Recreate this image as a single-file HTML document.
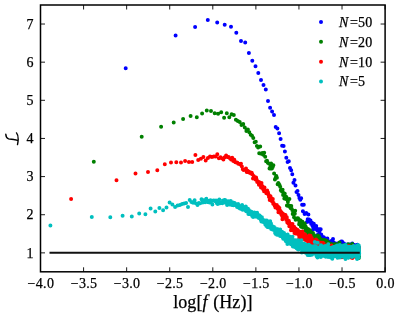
<!DOCTYPE html>
<html><head><meta charset="utf-8"><title>chart</title>
<style>
html,body{margin:0;padding:0;background:#fff;}
body{width:399px;height:319px;overflow:hidden;}
svg{display:block;will-change:transform;}
text{font-family:"Liberation Serif",serif;font-size:14px;fill:#000;stroke:#000;stroke-width:0.25px;letter-spacing:0.3px;}
</style></head><body>
<svg width="399" height="319" viewBox="0 0 399 319">
<rect width="399" height="319" fill="#fff"/>
<g>
<path d="M125.7 68.2h0M175.6 35.6h0M195.1 27.1h0M207.8 20.1h0M217.2 22.6h0M224.7 24.8h0M231.0 26.8h0M236.3 32.8h0M241.0 40.9h0M245.2 42.6h0M248.9 52.9h0M252.3 60.7h0M255.5 66.2h0M258.3 73.0h0M261.0 80.1h0M263.5 85.0h0M265.8 89.5h0M268.0 101.1h0M270.1 107.8h0M272.1 111.4h0M274.0 115.1h0M275.7 126.9h0M277.4 128.4h0M279.1 133.2h0M280.6 138.9h0M282.1 145.7h0M283.6 145.9h0M284.9 151.5h0M286.3 157.8h0M287.6 162.1h0M288.8 161.2h0M290.0 168.0h0M291.2 170.3h0M292.3 174.2h0M293.4 182.7h0M294.5 180.0h0M295.5 185.5h0M296.5 192.1h0M297.5 190.9h0M298.5 194.9h0M299.4 197.9h0M300.3 199.8h0M301.2 198.3h0M302.1 204.8h0M302.9 211.2h0M303.8 204.8h0M304.6 213.9h0M305.4 213.7h0M306.2 212.9h0M306.9 221.9h0M307.7 219.3h0M308.4 214.6h0M309.1 219.4h0M309.8 221.7h0M310.5 220.4h0M311.2 224.0h0M311.9 222.8h0M312.5 226.0h0M313.2 229.2h0M313.8 223.8h0M314.4 227.4h0M315.0 226.3h0M315.7 229.0h0M316.2 225.9h0M316.8 228.6h0M317.4 230.6h0M318.0 234.6h0M318.5 236.0h0M319.1 229.3h0M319.6 231.5h0M320.2 236.5h0M320.7 229.2h0M321.2 234.4h0M321.7 236.1h0M322.2 240.7h0M322.7 239.6h0M323.2 237.0h0M323.7 237.3h0M324.2 238.1h0M324.7 243.8h0M325.1 238.4h0M325.6 239.2h0M326.0 241.6h0M326.5 240.5h0M326.9 240.7h0M327.4 238.4h0M327.8 242.0h0M328.2 241.0h0M328.7 246.1h0M329.1 244.8h0M329.5 243.0h0M329.9 245.3h0M330.3 242.6h0M330.7 247.0h0M331.1 244.0h0M331.5 246.0h0M331.9 240.6h0M332.3 245.8h0M332.7 239.9h0M333.0 239.0h0M333.4 244.3h0M333.8 242.7h0M334.2 246.0h0M334.5 252.3h0M334.9 243.2h0M335.2 244.0h0M335.6 246.6h0M335.9 247.6h0M336.3 245.7h0M336.6 245.7h0M337.0 248.5h0M337.3 248.1h0M337.6 243.5h0M338.0 246.5h0M338.3 247.0h0M338.6 243.8h0M338.9 247.9h0M339.3 244.6h0M339.6 250.2h0M339.9 248.0h0M340.2 247.8h0M340.5 245.8h0M340.8 247.2h0M341.1 241.6h0M341.4 244.3h0M341.7 248.8h0M342.0 241.4h0M342.3 250.3h0M342.6 242.6h0M342.9 250.1h0M343.2 245.4h0M343.5 250.3h0M343.8 248.4h0M344.0 243.4h0M344.3 251.8h0M344.6 252.4h0M344.9 247.9h0M345.1 247.3h0M345.4 247.7h0M345.7 245.3h0M346.0 251.6h0M346.2 246.7h0M346.5 248.2h0M346.7 246.0h0M347.0 246.5h0M347.3 244.6h0M347.5 252.2h0M347.8 248.0h0M348.0 251.4h0M348.3 248.6h0M348.5 246.5h0M348.8 247.6h0M349.0 246.9h0M349.3 248.6h0M349.5 247.4h0M349.8 247.7h0M350.0 244.5h0M350.2 246.2h0M350.5 253.6h0M350.7 246.6h0M350.9 245.5h0M351.2 249.7h0M351.4 252.9h0M351.6 244.3h0M351.9 248.0h0M352.1 246.8h0M352.3 243.4h0M352.5 250.9h0M352.8 248.6h0M353.0 248.9h0M353.2 246.5h0M353.4 250.1h0M353.6 247.1h0M353.9 248.3h0M354.1 245.4h0M354.3 245.1h0M354.5 252.8h0M354.7 247.3h0M354.9 249.7h0M355.1 248.7h0M355.3 247.5h0M355.5 247.3h0M355.7 250.7h0M355.9 247.9h0M356.2 248.4h0M356.4 248.9h0M356.6 252.4h0M356.8 250.9h0M357.0 250.0h0M357.2 247.2h0M357.3 244.7h0M357.5 251.7h0M357.7 251.8h0M357.9 248.5h0M358.1 250.5h0M358.3 251.3h0M358.5 251.4h0M358.7 251.7h0M358.9 247.6h0M359.1 253.5h0" stroke="#0000ff" stroke-width="4.0" stroke-linecap="round" fill="none"/>
<path d="M93.8 161.8h0M141.7 136.8h0M161.1 126.8h0M173.7 122.6h0M183.1 119.0h0M190.6 116.1h0M196.8 117.3h0M202.1 113.6h0M206.8 110.6h0M211.0 111.1h0M214.7 113.3h0M218.1 113.8h0M221.2 112.3h0M224.1 117.8h0M226.8 113.3h0M229.3 117.3h0M231.6 114.3h0M233.8 115.1h0M235.9 119.8h0M237.8 120.9h0M239.7 122.1h0M241.5 125.1h0M243.2 123.9h0M244.8 127.6h0M246.4 130.9h0M247.9 129.6h0M249.3 132.2h0M250.7 134.8h0M252.0 135.7h0M253.3 137.9h0M254.6 142.3h0M255.8 141.8h0M256.9 146.1h0M258.1 147.6h0M259.2 153.2h0M260.2 146.5h0M261.3 153.7h0M262.3 152.9h0M263.3 154.7h0M264.2 152.7h0M265.2 156.7h0M266.1 161.2h0M267.0 160.8h0M267.8 162.8h0M268.7 163.4h0M269.5 168.4h0M270.3 167.1h0M271.1 163.4h0M271.9 168.6h0M272.7 167.0h0M273.4 165.3h0M274.1 173.5h0M274.9 179.5h0M275.6 177.7h0M276.3 176.0h0M276.9 177.8h0M277.6 184.2h0M278.3 183.0h0M278.9 183.9h0M279.5 185.1h0M280.2 186.8h0M280.8 190.2h0M281.4 191.0h0M282.0 191.6h0M282.6 189.8h0M283.1 194.9h0M283.7 193.0h0M284.3 198.6h0M284.8 193.8h0M285.4 197.7h0M285.9 199.1h0M286.4 196.9h0M286.9 205.4h0M287.4 205.7h0M287.9 201.7h0M288.4 205.7h0M288.9 205.6h0M289.4 198.9h0M289.9 207.0h0M290.4 207.0h0M290.8 208.2h0M291.3 206.1h0M291.8 208.9h0M292.2 209.9h0M292.7 214.1h0M293.1 212.7h0M293.5 212.5h0M294.0 217.2h0M294.4 212.6h0M294.8 213.7h0M295.2 210.7h0M295.6 219.8h0M296.0 218.8h0M296.4 219.2h0M296.8 219.1h0M297.2 218.2h0M297.6 219.0h0M298.0 218.3h0M298.4 218.9h0M298.8 220.0h0M299.1 224.3h0M299.5 222.3h0M299.9 221.2h0M300.2 220.3h0M300.6 220.7h0M301.0 226.8h0M301.3 224.5h0M301.7 223.8h0M302.0 223.2h0M302.4 221.7h0M302.7 224.8h0M303.0 227.6h0M303.4 224.8h0M303.7 225.7h0M304.0 226.1h0M304.3 227.4h0M304.7 223.4h0M305.0 227.3h0M305.3 226.1h0M305.6 231.0h0M305.9 227.1h0M306.2 231.0h0M306.6 233.9h0M306.9 229.5h0M307.2 229.1h0M307.5 231.5h0M307.8 231.2h0M308.0 229.0h0M308.3 233.0h0M308.6 237.4h0M308.9 231.7h0M309.2 232.2h0M309.5 230.3h0M309.8 234.1h0M310.0 230.3h0M310.3 230.9h0M310.6 237.4h0M310.9 232.0h0M311.1 237.5h0M311.4 238.9h0M311.7 235.9h0M311.9 236.9h0M312.2 240.8h0M312.5 235.5h0M312.7 234.7h0M313.0 233.0h0M313.2 236.9h0M313.5 240.8h0M313.8 239.7h0M314.0 235.1h0M314.3 235.5h0M314.5 236.7h0M314.7 239.0h0M315.0 238.0h0M315.2 239.2h0M315.5 239.6h0M315.7 238.2h0M316.0 239.0h0M316.2 239.8h0M316.4 239.2h0M316.7 240.9h0M316.9 244.6h0M317.1 241.4h0M317.4 240.2h0M317.6 235.8h0M317.8 241.3h0M318.0 235.4h0M318.3 236.9h0M318.5 243.0h0M318.7 242.7h0M318.9 240.7h0M319.1 236.7h0M319.4 240.4h0M319.6 239.7h0M319.8 243.3h0M320.0 247.6h0M320.2 242.4h0M320.4 240.0h0M320.6 239.1h0M320.8 242.1h0M321.1 242.0h0M321.3 239.6h0M321.5 243.0h0M321.7 239.8h0M321.9 245.9h0M322.1 245.9h0M322.3 246.0h0M322.5 242.1h0M322.7 244.8h0M322.9 243.3h0M323.1 242.7h0M323.3 242.9h0M323.5 240.5h0M323.7 240.3h0M323.8 246.2h0M324.0 243.7h0M324.2 244.9h0M324.4 247.0h0M324.6 240.0h0M324.8 242.6h0M325.0 245.2h0M325.2 245.9h0M325.4 244.0h0M325.5 247.7h0M325.7 245.7h0M325.9 242.1h0M326.1 242.9h0M326.3 247.5h0M326.4 246.8h0M326.6 240.7h0M326.8 249.3h0M327.0 247.4h0M327.2 249.4h0M327.3 245.0h0M327.5 245.4h0M327.7 243.3h0M327.9 252.9h0M328.0 246.0h0M328.2 250.6h0M328.4 244.9h0M328.5 247.1h0M328.7 242.4h0M328.9 245.9h0M329.0 249.5h0M329.2 243.8h0M329.4 249.9h0M329.5 248.1h0M329.7 244.6h0M329.9 246.1h0M330.0 246.3h0M330.2 247.4h0M330.4 246.2h0M330.5 245.5h0M330.7 246.9h0M330.8 245.0h0M331.0 244.4h0M331.2 247.7h0M331.3 250.1h0M331.5 243.9h0M331.6 247.9h0M331.8 246.3h0M331.9 245.4h0M332.1 250.2h0M332.3 246.7h0M332.4 252.0h0M332.6 246.1h0M332.7 249.2h0M332.9 247.6h0M333.0 246.3h0M333.2 249.8h0M333.3 247.9h0M333.5 249.9h0M333.6 248.3h0M333.8 245.6h0M333.9 248.2h0M334.1 248.6h0M334.2 251.0h0M334.3 246.2h0M334.5 248.5h0M334.6 244.2h0M334.8 250.4h0M334.9 245.9h0M335.1 244.1h0M335.2 248.6h0M335.3 251.7h0M335.5 244.9h0M335.6 246.1h0M335.8 247.0h0M335.9 246.0h0M336.0 250.0h0M336.2 246.9h0M336.3 247.2h0M336.5 250.6h0M336.6 247.2h0M336.7 250.3h0M336.9 246.7h0M337.0 246.1h0M337.1 244.5h0M337.3 254.2h0M337.4 248.5h0M337.5 250.0h0M337.7 249.3h0M337.8 249.9h0M337.9 249.6h0M338.1 254.5h0M338.2 246.8h0M338.3 245.5h0M338.5 247.0h0M338.6 246.2h0M338.7 251.6h0M338.9 251.8h0M339.0 247.2h0M339.1 246.2h0M339.2 248.9h0M339.4 253.5h0M339.5 242.5h0M339.6 251.3h0M339.7 247.1h0M339.9 252.7h0M340.0 247.2h0M340.1 249.3h0M340.2 246.1h0M340.4 247.5h0M340.5 253.7h0M340.6 252.2h0M340.7 249.0h0M340.9 247.8h0M341.0 245.2h0M341.1 249.1h0M341.2 250.0h0M341.3 249.9h0M341.5 249.9h0M341.6 247.2h0M341.7 250.0h0M341.8 250.1h0M341.9 253.5h0M342.1 255.1h0M342.2 249.9h0M342.3 248.2h0M342.4 250.1h0M342.5 248.7h0M342.6 248.3h0M342.8 250.1h0M342.9 247.6h0M343.0 251.9h0M343.1 250.0h0M343.2 251.0h0M343.3 249.9h0M343.5 248.5h0M343.6 247.9h0M343.7 249.8h0M343.8 249.0h0M343.9 251.0h0M344.0 250.4h0M344.1 246.9h0M344.2 250.6h0M344.4 246.9h0M344.5 248.8h0M344.6 249.7h0M344.7 245.1h0M344.8 250.7h0M344.9 250.9h0M345.0 250.1h0M345.1 249.4h0M345.2 249.6h0M345.3 248.0h0M345.4 249.8h0M345.6 249.1h0M345.7 250.8h0M345.8 247.4h0M345.9 251.2h0M346.0 251.0h0M346.1 250.2h0M346.2 249.5h0M346.3 252.1h0M346.4 246.3h0M346.5 251.8h0M346.6 251.3h0M346.7 251.4h0M346.8 251.7h0M346.9 249.0h0M347.0 250.0h0M347.1 252.4h0M347.2 251.8h0M347.3 251.3h0M347.4 246.8h0M347.5 252.2h0M347.6 253.8h0M347.8 253.4h0M347.9 251.4h0M348.0 246.7h0M348.1 253.3h0M348.2 250.4h0M348.3 244.2h0M348.4 251.8h0M348.5 247.0h0M348.6 247.5h0M348.7 249.2h0M348.8 254.2h0M348.9 249.9h0M349.0 251.6h0M349.0 255.4h0M349.1 255.1h0M349.2 250.7h0M349.3 250.3h0M349.4 247.7h0M349.5 249.1h0M349.6 252.1h0M349.7 252.0h0M349.8 251.3h0M349.9 253.6h0M350.0 249.0h0M350.1 250.9h0M350.2 252.9h0M350.3 252.5h0M350.4 253.8h0M350.5 252.1h0M350.6 250.2h0M350.7 252.0h0M350.8 248.4h0M350.9 246.8h0M351.0 252.5h0M351.1 250.9h0M351.1 251.8h0M351.2 246.6h0M351.3 250.1h0M351.4 249.5h0M351.5 248.8h0M351.6 245.2h0M351.7 250.2h0M351.8 253.4h0M351.9 252.1h0M352.0 249.5h0M352.1 251.0h0M352.2 253.1h0M352.2 243.9h0M352.3 250.8h0M352.4 252.5h0M352.5 252.9h0M352.6 255.5h0M352.7 254.1h0M352.8 251.9h0M352.9 251.9h0M353.0 253.2h0M353.0 249.7h0M353.1 251.0h0M353.2 253.5h0M353.3 256.2h0M353.4 250.7h0M353.5 251.0h0M353.6 251.7h0M353.7 254.6h0M353.7 251.1h0M353.8 255.0h0M353.9 248.6h0M354.0 250.7h0M354.1 250.6h0M354.2 253.2h0M354.3 253.9h0M354.3 247.2h0M354.4 248.8h0M354.5 252.1h0M354.6 249.5h0M354.7 247.2h0M354.8 253.9h0M354.9 252.5h0M354.9 252.5h0M355.0 250.0h0M355.1 253.9h0M355.2 250.6h0M355.3 254.1h0M355.4 248.8h0M355.4 249.0h0M355.5 251.8h0M355.6 249.4h0M355.7 253.0h0M355.8 251.9h0M355.8 248.8h0M355.9 251.4h0M356.0 250.3h0M356.1 253.6h0M356.2 249.6h0M356.3 250.1h0M356.3 254.4h0M356.4 257.1h0M356.5 256.5h0M356.6 251.4h0M356.7 251.8h0M356.7 255.3h0M356.8 250.9h0M356.9 248.7h0M357.0 251.6h0M357.1 252.5h0M357.1 249.1h0M357.2 247.0h0M357.3 247.6h0M357.4 253.0h0M357.4 249.3h0M357.5 250.9h0M357.6 251.9h0M357.7 252.9h0M357.8 250.4h0M357.8 252.6h0M357.9 249.0h0M358.0 250.4h0M358.1 248.7h0M358.1 254.3h0M358.2 251.3h0M358.3 249.4h0M358.4 250.4h0M358.5 250.8h0M358.5 253.2h0M358.6 247.2h0M358.7 248.7h0M358.8 250.4h0M358.8 257.9h0M358.9 253.8h0M359.0 251.1h0M359.1 253.2h0M359.1 256.7h0" stroke="#008000" stroke-width="4.0" stroke-linecap="round" fill="none"/>
<path d="M71.1 198.9h0M116.5 180.3h0M135.5 173.6h0M148.0 172.1h0M157.3 170.3h0M164.8 164.3h0M171.0 162.5h0M176.3 162.3h0M181.0 162.5h0M185.1 161.0h0M188.9 162.0h0M192.2 162.0h0M195.4 155.0h0M198.2 160.0h0M200.9 158.8h0M203.4 157.0h0M205.7 160.5h0M207.9 158.0h0M210.0 156.6h0M211.9 156.9h0M213.8 156.4h0M215.6 156.6h0M217.3 154.3h0M218.9 158.2h0M220.5 157.3h0M222.0 158.3h0M223.4 159.4h0M224.8 157.3h0M226.1 155.6h0M227.4 157.0h0M228.6 157.0h0M229.9 158.2h0M231.0 159.4h0M232.2 157.8h0M233.3 161.1h0M234.3 159.7h0M235.4 162.3h0M236.4 162.4h0M237.4 162.8h0M238.3 163.7h0M239.2 163.9h0M240.2 164.4h0M241.0 163.8h0M241.9 166.4h0M242.8 169.3h0M243.6 170.0h0M244.4 169.8h0M245.2 169.7h0M246.0 168.6h0M246.7 171.9h0M247.5 170.7h0M248.2 171.3h0M248.9 171.6h0M249.6 172.7h0M250.3 172.6h0M251.0 173.6h0M251.7 172.8h0M252.3 174.3h0M253.0 178.5h0M253.6 176.1h0M254.2 176.7h0M254.9 178.4h0M255.5 179.4h0M256.1 177.6h0M256.6 179.6h0M257.2 181.9h0M257.8 181.6h0M258.3 182.1h0M258.9 184.8h0M259.4 182.3h0M260.0 184.0h0M260.5 183.8h0M261.0 187.4h0M261.5 183.1h0M262.0 185.7h0M262.5 186.5h0M263.0 188.9h0M263.5 189.5h0M264.0 191.3h0M264.5 187.5h0M264.9 191.6h0M265.4 190.7h0M265.8 190.7h0M266.3 193.2h0M266.7 191.6h0M267.2 190.5h0M267.6 193.7h0M268.0 192.6h0M268.5 194.6h0M268.9 196.8h0M269.3 197.3h0M269.7 199.9h0M270.1 197.7h0M270.5 196.2h0M270.9 198.0h0M271.3 198.3h0M271.7 198.4h0M272.1 201.6h0M272.5 200.5h0M272.8 198.9h0M273.2 203.8h0M273.6 203.0h0M274.0 204.3h0M274.3 204.4h0M274.7 205.7h0M275.0 205.2h0M275.4 207.6h0M275.7 206.7h0M276.1 207.1h0M276.4 207.6h0M276.8 205.0h0M277.1 207.5h0M277.4 207.8h0M277.8 209.0h0M278.1 206.8h0M278.4 212.3h0M278.7 210.1h0M279.1 208.3h0M279.4 207.9h0M279.7 210.7h0M280.0 211.5h0M280.3 210.8h0M280.6 212.6h0M280.9 211.7h0M281.2 214.2h0M281.5 212.4h0M281.8 213.9h0M282.1 216.1h0M282.4 219.2h0M282.7 213.4h0M283.0 214.7h0M283.3 214.4h0M283.6 217.6h0M283.8 214.6h0M284.1 216.1h0M284.4 217.2h0M284.7 215.9h0M284.9 216.3h0M285.2 217.5h0M285.5 214.9h0M285.8 216.4h0M286.0 218.6h0M286.3 219.9h0M286.5 219.7h0M286.8 217.2h0M287.1 219.8h0M287.3 222.4h0M287.6 222.3h0M287.8 221.5h0M288.1 220.4h0M288.3 223.4h0M288.6 221.5h0M288.8 220.8h0M289.1 221.8h0M289.3 226.2h0M289.5 224.2h0M289.8 226.3h0M290.0 223.6h0M290.3 226.5h0M290.5 223.9h0M290.7 225.1h0M291.0 230.2h0M291.2 227.4h0M291.4 225.3h0M291.7 226.3h0M291.9 227.3h0M292.1 229.1h0M292.3 226.2h0M292.5 224.0h0M292.8 227.0h0M293.0 227.7h0M293.2 228.1h0M293.4 230.6h0M293.6 228.9h0M293.9 230.1h0M294.1 226.7h0M294.3 230.6h0M294.5 233.1h0M294.7 230.8h0M294.9 230.0h0M295.1 230.0h0M295.3 233.4h0M295.5 228.4h0M295.7 230.1h0M295.9 231.4h0M296.1 232.2h0M296.3 230.1h0M296.5 231.7h0M296.7 230.8h0M296.9 231.7h0M297.1 231.4h0M297.3 229.7h0M297.5 232.0h0M297.7 233.9h0M297.9 230.5h0M298.1 232.1h0M298.3 234.1h0M298.5 230.9h0M298.7 233.5h0M298.9 231.3h0M299.1 235.7h0M299.2 238.2h0M299.4 237.8h0M299.6 233.6h0M299.8 235.7h0M300.0 234.6h0M300.2 234.7h0M300.3 237.7h0M300.5 232.1h0M300.7 236.9h0M300.9 234.8h0M301.1 237.8h0M301.2 235.5h0M301.4 233.9h0M301.6 235.9h0M301.8 236.9h0M301.9 235.6h0M302.1 236.6h0M302.3 234.7h0M302.4 231.5h0M302.6 237.7h0M302.8 237.4h0M302.9 236.4h0M303.1 236.3h0M303.3 238.4h0M303.4 235.5h0M303.6 235.0h0M303.8 236.2h0M303.9 239.1h0M304.1 233.9h0M304.3 239.2h0M304.4 235.6h0M304.6 234.8h0M304.8 239.7h0M304.9 237.0h0M305.1 234.6h0M305.2 236.6h0M305.4 239.4h0M305.5 240.0h0M305.7 236.8h0M305.9 238.6h0M306.0 239.3h0M306.2 236.6h0M306.3 238.7h0M306.5 238.0h0M306.6 237.1h0M306.8 237.2h0M306.9 238.5h0M307.1 238.5h0M307.2 237.4h0M307.4 237.7h0M307.5 241.0h0M307.7 239.2h0M307.8 240.7h0M308.0 241.5h0M308.1 240.3h0M308.3 243.9h0M308.4 237.5h0M308.6 241.0h0M308.7 238.8h0M308.8 243.4h0M309.0 243.2h0M309.1 235.6h0M309.3 237.8h0M309.4 241.3h0M309.6 241.6h0M309.7 241.6h0M309.8 240.0h0M310.0 241.2h0M310.1 241.7h0M310.3 240.2h0M310.4 242.7h0M310.5 235.8h0M310.7 242.0h0M310.8 238.6h0M310.9 242.9h0M311.1 240.5h0M311.2 239.2h0M311.3 241.9h0M311.5 239.3h0M311.6 239.4h0M311.7 238.1h0M311.9 241.4h0M312.0 242.6h0M312.1 243.8h0M312.3 241.5h0M312.4 244.1h0M312.5 242.0h0M312.7 241.8h0M312.8 243.3h0M312.9 244.4h0M313.1 241.6h0M313.2 241.9h0M313.3 242.1h0M313.4 242.7h0M313.6 240.8h0M313.7 244.9h0M313.8 242.0h0M313.9 243.9h0M314.1 241.2h0M314.2 243.8h0M314.3 244.0h0M314.4 242.4h0M314.6 247.6h0M314.7 244.2h0M314.8 247.2h0M314.9 245.6h0M315.1 242.3h0M315.2 242.9h0M315.3 244.7h0M315.4 244.0h0M315.5 244.1h0M315.7 243.5h0M315.8 240.3h0M315.9 243.7h0M316.0 239.6h0M316.1 245.2h0M316.2 242.9h0M316.4 243.0h0M316.5 244.2h0M316.6 245.3h0M316.7 241.8h0M316.8 241.2h0M316.9 242.7h0M317.1 240.7h0M317.2 243.1h0M317.3 248.5h0M317.4 243.0h0M317.5 246.7h0M317.6 242.5h0M317.7 246.1h0M317.9 244.9h0M318.0 245.5h0M318.1 246.9h0M318.2 249.5h0M318.3 246.3h0M318.4 246.2h0M318.5 244.0h0M318.6 247.3h0M318.8 245.6h0M318.9 248.0h0M319.0 246.2h0M319.1 250.0h0M319.2 242.3h0M319.3 245.9h0M319.4 248.5h0M319.5 245.9h0M319.6 245.1h0M319.7 246.3h0M319.8 244.0h0M319.9 247.2h0M320.1 252.1h0M320.2 249.5h0M320.3 244.8h0M320.4 245.3h0M320.5 246.3h0M320.6 249.3h0M320.7 245.5h0M320.8 245.8h0M320.9 249.1h0M321.0 249.1h0M321.1 246.5h0M321.2 245.0h0M321.3 244.1h0M321.4 246.0h0M321.5 242.8h0M321.6 249.1h0M321.7 246.2h0M321.8 248.6h0M321.9 251.5h0M322.0 250.1h0M322.1 245.2h0M322.2 249.5h0M322.3 250.1h0M322.4 246.2h0M322.5 245.8h0M322.6 247.6h0M322.7 244.5h0M322.8 250.9h0M322.9 242.8h0M323.0 245.6h0M323.1 247.4h0M323.2 247.5h0M323.3 248.3h0M323.4 248.6h0M323.5 247.6h0M323.6 250.5h0M323.7 243.6h0M323.8 248.1h0M323.9 246.7h0M324.0 248.5h0M324.1 248.7h0M324.2 246.3h0M324.3 246.9h0M324.4 250.0h0M324.5 249.1h0M324.6 246.9h0M324.7 252.7h0M324.7 253.3h0M324.8 245.4h0M324.9 249.1h0M325.0 253.8h0M325.1 250.2h0M325.2 249.0h0M325.3 248.2h0M325.4 247.5h0M325.5 248.2h0M325.6 247.5h0M325.7 250.3h0M325.8 247.9h0M325.9 247.8h0M325.9 246.3h0M326.0 248.7h0M326.1 247.0h0M326.2 248.5h0M326.3 251.1h0M326.4 249.7h0M326.5 250.0h0M326.6 249.7h0M326.7 249.1h0M326.8 248.8h0M326.8 248.4h0M326.9 250.7h0M327.0 246.8h0M327.1 251.9h0M327.2 249.2h0M327.3 247.6h0M327.4 248.2h0M327.5 247.8h0M327.6 249.6h0M327.6 247.8h0M327.7 251.7h0M327.8 247.7h0M327.9 244.6h0M328.0 247.9h0M328.1 245.2h0M328.2 249.4h0M328.2 251.7h0M328.3 250.9h0M328.4 246.7h0M328.5 247.9h0M328.6 253.3h0M328.7 250.3h0M328.8 249.6h0M328.8 251.9h0M328.9 254.8h0M329.0 252.4h0M329.1 250.0h0M329.2 250.5h0M329.3 251.1h0M329.3 248.5h0M329.4 247.6h0M329.5 250.0h0M329.6 247.9h0M329.7 249.8h0M329.7 250.1h0M329.8 254.9h0M329.9 248.2h0M330.0 249.7h0M330.1 249.7h0M330.2 250.9h0M330.2 252.2h0M330.3 249.0h0M330.4 248.3h0M330.5 246.6h0M330.6 248.1h0M330.6 251.2h0M330.7 250.2h0M330.8 248.0h0M330.9 249.3h0M331.0 250.2h0M331.0 251.2h0M331.1 248.9h0M331.2 249.7h0M331.3 246.4h0M331.4 247.8h0M331.4 253.6h0M331.5 245.6h0M331.6 249.5h0M331.7 250.7h0M331.7 249.5h0M331.8 248.6h0M331.9 250.2h0M332.0 250.3h0M332.1 250.1h0M332.1 246.4h0M332.2 250.0h0M332.3 248.5h0M332.4 249.2h0M332.4 250.8h0M332.5 251.7h0M332.6 252.3h0M332.7 249.4h0M332.7 252.4h0M332.8 252.9h0M332.9 252.8h0M333.0 253.4h0M333.0 250.2h0M333.1 250.1h0M333.2 252.2h0M333.3 247.6h0M333.3 250.9h0M333.4 249.4h0M333.5 249.8h0M333.6 246.9h0M333.6 248.7h0M333.7 250.5h0M333.8 252.4h0M333.9 252.7h0M333.9 250.4h0M334.0 250.2h0M334.1 248.9h0M334.2 251.5h0M334.2 250.1h0M334.3 251.9h0M334.4 254.3h0M334.5 250.6h0M334.5 247.5h0M334.6 248.9h0M334.7 247.6h0M334.7 248.2h0M334.8 253.5h0M334.9 251.2h0M335.0 247.6h0M335.0 252.1h0M335.1 253.4h0M335.2 250.0h0M335.2 249.4h0M335.3 250.1h0M335.4 251.4h0M335.5 252.2h0M335.5 253.3h0M335.6 253.4h0M335.7 253.3h0M335.7 253.7h0M335.8 252.3h0M335.9 247.7h0M335.9 250.6h0M336.0 251.6h0M336.1 250.1h0M336.2 252.8h0M336.2 250.2h0M336.3 249.0h0M336.4 254.0h0M336.4 252.4h0M336.5 251.4h0M336.6 252.9h0M336.6 253.2h0M336.7 251.7h0M336.8 245.9h0M336.8 249.6h0M336.9 250.1h0M337.0 249.0h0M337.0 251.5h0M337.1 253.6h0M337.2 250.1h0M337.2 248.7h0M337.3 255.4h0M337.4 250.2h0M337.4 248.5h0M337.5 251.6h0M337.6 252.0h0M337.6 249.7h0M337.7 252.8h0M337.8 250.1h0M337.8 249.2h0M337.9 251.6h0M338.0 252.8h0M338.0 249.9h0M338.1 251.9h0M338.2 251.0h0M338.2 257.2h0M338.3 249.8h0M338.4 254.2h0M338.4 251.2h0M338.5 251.0h0M338.6 252.8h0M338.6 253.2h0M338.7 254.0h0M338.8 252.0h0M338.8 250.1h0M338.9 250.2h0M338.9 252.4h0M339.0 252.6h0M339.1 254.3h0M339.1 252.2h0M339.2 253.6h0M339.3 254.6h0M339.3 251.7h0M339.4 248.3h0M339.5 248.9h0M339.5 248.4h0M339.6 254.8h0M339.6 249.7h0M339.7 254.0h0M339.8 252.7h0M339.8 255.1h0M339.9 253.6h0M340.0 251.3h0M340.0 251.1h0M340.1 251.7h0M340.2 251.9h0M340.2 250.4h0M340.3 251.4h0M340.3 254.9h0M340.4 247.9h0M340.5 252.1h0M340.5 249.6h0M340.6 251.9h0M340.6 253.3h0M340.7 251.4h0M340.8 253.1h0M340.8 248.2h0M340.9 253.8h0M341.0 250.3h0M341.0 252.8h0M341.1 251.9h0M341.1 246.1h0M341.2 249.9h0M341.3 252.0h0M341.3 254.8h0M341.4 252.1h0M341.4 252.1h0M341.5 248.6h0M341.6 254.5h0M341.6 255.3h0M341.7 251.6h0M341.7 251.1h0M341.8 248.1h0M341.9 253.4h0M341.9 257.2h0M342.0 253.1h0M342.0 254.2h0M342.1 252.7h0M342.1 249.5h0M342.2 254.4h0M342.3 249.0h0M342.3 251.1h0M342.4 252.1h0M342.4 253.4h0M342.5 252.4h0M342.6 252.4h0M342.6 250.0h0M342.7 248.9h0M342.7 251.7h0M342.8 250.1h0M342.8 248.8h0M342.9 248.9h0M343.0 250.5h0M343.0 247.7h0M343.1 248.7h0M343.1 248.1h0M343.2 252.0h0M343.3 252.4h0M343.3 255.8h0M343.4 248.4h0M343.4 250.2h0M343.5 253.5h0M343.5 251.1h0M343.6 250.9h0M343.7 255.2h0M343.7 250.9h0M343.8 249.2h0M343.8 248.8h0M343.9 252.3h0M343.9 252.2h0M344.0 248.7h0M344.0 249.5h0M344.1 252.7h0M344.2 252.8h0M344.2 250.3h0M344.3 252.9h0M344.3 252.8h0M344.4 247.9h0M344.4 251.0h0M344.5 252.5h0M344.5 250.4h0M344.6 247.1h0M344.7 251.0h0M344.7 253.2h0M344.8 254.9h0M344.8 247.0h0M344.9 257.1h0M344.9 249.3h0M345.0 253.6h0M345.0 254.2h0M345.1 253.7h0M345.2 251.9h0M345.2 249.2h0M345.3 252.9h0M345.3 250.1h0M345.4 246.3h0M345.4 257.6h0M345.5 253.1h0M345.5 255.5h0M345.6 249.7h0M345.6 254.7h0M345.7 255.0h0M345.7 254.9h0M345.8 251.6h0M345.9 249.1h0M345.9 251.3h0M346.0 247.0h0M346.0 248.1h0M346.1 251.8h0M346.1 249.6h0M346.2 251.3h0M346.2 251.4h0M346.3 255.7h0M346.3 254.4h0M346.4 251.6h0M346.4 254.2h0M346.5 250.0h0M346.5 251.0h0M346.6 253.6h0M346.6 249.1h0M346.7 251.1h0M346.7 248.9h0M346.8 251.9h0M346.9 255.1h0M346.9 250.1h0M347.0 252.1h0M347.0 249.8h0M347.1 249.3h0M347.1 249.1h0M347.2 254.7h0M347.2 256.6h0M347.3 252.7h0M347.3 250.2h0M347.4 253.2h0M347.4 251.0h0M347.5 253.4h0M347.5 252.3h0M347.6 252.3h0M347.6 253.0h0M347.7 250.5h0M347.7 250.8h0M347.8 248.1h0M347.8 250.8h0M347.9 248.7h0M347.9 251.4h0M348.0 249.7h0M348.0 251.9h0M348.1 252.7h0M348.1 248.7h0M348.2 250.0h0M348.2 249.7h0M348.3 253.3h0M348.3 255.3h0M348.4 253.5h0M348.4 251.0h0M348.5 254.8h0M348.5 248.5h0M348.6 254.9h0M348.6 250.3h0M348.7 245.9h0M348.7 257.3h0M348.8 255.0h0M348.8 249.6h0M348.9 252.1h0M348.9 251.3h0M349.0 251.9h0M349.0 248.6h0M349.1 250.3h0M349.1 252.7h0M349.2 252.2h0M349.2 254.2h0M349.3 251.9h0M349.3 256.7h0M349.4 250.2h0M349.4 252.3h0M349.5 247.7h0M349.5 249.1h0M349.6 254.5h0M349.6 249.8h0M349.7 252.9h0M349.7 251.6h0M349.8 249.6h0M349.8 251.0h0M349.8 250.7h0M349.9 250.7h0M349.9 253.3h0M350.0 253.1h0M350.0 250.5h0M350.1 249.8h0M350.1 252.3h0M350.2 251.5h0M350.2 253.9h0M350.3 257.3h0M350.3 253.5h0M350.4 251.7h0M350.4 251.4h0M350.5 250.0h0M350.5 249.9h0M350.6 249.7h0M350.6 250.9h0M350.7 250.9h0M350.7 253.3h0M350.7 250.9h0M350.8 251.4h0M350.8 249.2h0M350.9 255.2h0M350.9 252.8h0M351.0 255.5h0M351.0 253.4h0M351.1 254.9h0M351.1 251.3h0M351.2 253.3h0M351.2 257.5h0M351.3 249.2h0M351.3 254.3h0M351.4 255.3h0M351.4 252.7h0M351.4 253.4h0M351.5 254.5h0M351.5 250.4h0M351.6 252.7h0M351.6 249.9h0M351.7 250.3h0M351.7 250.5h0M351.8 251.5h0M351.8 252.1h0M351.9 252.8h0M351.9 248.8h0M351.9 256.1h0M352.0 254.3h0M352.0 253.4h0M352.1 251.0h0M352.1 251.6h0M352.2 253.0h0M352.2 252.7h0M352.3 248.2h0M352.3 253.4h0M352.4 258.1h0M352.4 247.8h0M352.4 254.0h0M352.5 252.6h0M352.5 251.6h0M352.6 254.8h0M352.6 249.3h0M352.7 252.2h0M352.7 255.0h0M352.8 251.4h0M352.8 250.9h0M352.8 252.1h0M352.9 250.9h0M352.9 255.2h0M353.0 249.9h0M353.0 253.7h0M353.1 249.1h0M353.1 253.3h0M353.2 251.6h0M353.2 246.3h0M353.2 251.8h0M353.3 249.5h0M353.3 250.9h0M353.4 255.2h0M353.4 249.4h0M353.5 249.5h0M353.5 254.9h0M353.5 252.1h0M353.6 255.2h0M353.6 252.5h0M353.7 249.9h0M353.7 251.7h0M353.8 254.5h0M353.8 253.9h0M353.9 251.8h0M353.9 252.0h0M353.9 251.6h0M354.0 250.6h0M354.0 256.0h0M354.1 251.9h0M354.1 249.4h0M354.2 250.8h0M354.2 253.4h0M354.2 253.2h0M354.3 251.6h0M354.3 250.4h0M354.4 251.9h0M354.4 248.2h0M354.4 249.1h0M354.5 253.6h0M354.5 250.8h0M354.6 252.7h0M354.6 254.5h0M354.7 253.3h0M354.7 251.9h0M354.7 256.5h0M354.8 253.3h0M354.8 251.1h0M354.9 253.5h0M354.9 252.8h0M355.0 250.0h0M355.0 252.0h0M355.0 251.5h0M355.1 247.6h0M355.1 251.5h0M355.2 251.3h0M355.2 250.9h0M355.2 248.3h0M355.3 251.1h0M355.3 251.8h0M355.4 252.1h0M355.4 249.4h0M355.5 253.3h0M355.5 249.3h0M355.5 251.4h0M355.6 254.7h0M355.6 250.4h0M355.7 250.8h0M355.7 254.2h0M355.7 251.1h0M355.8 251.3h0M355.8 252.4h0M355.9 254.2h0M355.9 247.1h0M355.9 250.1h0M356.0 249.7h0M356.0 249.6h0M356.1 250.1h0M356.1 250.1h0M356.2 252.6h0M356.2 250.0h0M356.2 252.2h0M356.3 252.8h0M356.3 250.3h0M356.4 252.2h0M356.4 255.4h0M356.4 252.6h0M356.5 250.5h0M356.5 251.8h0M356.6 249.9h0M356.6 252.5h0M356.6 253.8h0M356.7 250.2h0M356.7 251.5h0M356.8 254.3h0M356.8 250.9h0M356.8 252.3h0M356.9 249.7h0M356.9 250.2h0M357.0 250.8h0M357.0 256.5h0M357.0 251.1h0M357.1 250.8h0M357.1 250.7h0M357.2 251.6h0M357.2 253.3h0M357.2 252.3h0M357.3 256.3h0M357.3 252.4h0M357.3 255.0h0M357.4 252.5h0M357.4 253.2h0M357.5 248.9h0M357.5 251.7h0M357.5 251.8h0M357.6 251.4h0M357.6 247.4h0M357.7 253.8h0M357.7 251.1h0M357.7 251.0h0M357.8 251.4h0M357.8 251.5h0M357.9 252.8h0M357.9 249.3h0M357.9 250.0h0M358.0 252.6h0M358.0 252.3h0M358.0 251.2h0M358.1 250.7h0M358.1 250.2h0M358.2 251.8h0M358.2 254.4h0M358.2 249.7h0M358.3 255.2h0M358.3 253.7h0M358.4 251.0h0M358.4 253.6h0M358.4 248.9h0M358.5 248.3h0M358.5 249.3h0M358.5 251.1h0M358.6 251.3h0M358.6 250.9h0M358.7 252.2h0M358.7 247.5h0M358.7 253.0h0M358.8 249.0h0M358.8 250.6h0M358.8 251.1h0M358.9 249.5h0M358.9 249.1h0M359.0 249.9h0M359.0 251.9h0M359.0 253.2h0M359.1 253.2h0M359.1 249.9h0M359.1 250.3h0" stroke="#ff0000" stroke-width="4.0" stroke-linecap="round" fill="none"/>
<path d="M50.4 225.4h0M91.8 216.9h0M110.3 217.2h0M122.6 215.7h0M131.8 216.4h0M139.2 213.6h0M145.4 214.2h0M150.6 208.4h0M155.3 211.4h0M159.4 207.9h0M163.1 210.2h0M166.5 207.6h0M169.6 202.6h0M172.4 204.6h0M175.1 207.1h0M177.6 205.6h0M179.9 205.0h0M182.1 203.9h0M184.1 203.4h0M186.1 202.9h0M188.0 207.1h0M189.7 199.9h0M191.4 202.1h0M193.1 202.7h0M194.6 200.2h0M196.1 203.6h0M197.5 205.1h0M198.9 203.0h0M200.2 203.3h0M201.5 199.3h0M202.8 202.6h0M204.0 200.2h0M205.1 202.2h0M206.3 198.8h0M207.4 202.1h0M208.4 201.0h0M209.5 202.4h0M210.5 200.3h0M211.5 200.7h0M212.4 204.5h0M213.4 200.6h0M214.3 200.8h0M215.2 201.3h0M216.0 200.4h0M216.9 203.2h0M217.7 203.9h0M218.5 200.8h0M219.3 199.5h0M220.1 203.2h0M220.8 203.1h0M221.6 202.8h0M222.3 203.2h0M223.0 200.6h0M223.7 201.5h0M224.4 199.9h0M225.1 199.9h0M225.8 203.1h0M226.4 201.0h0M227.1 204.9h0M227.7 202.1h0M228.3 201.2h0M229.0 203.2h0M229.6 204.5h0M230.1 202.9h0M230.7 201.0h0M231.3 203.3h0M231.9 204.9h0M232.4 202.7h0M233.0 202.6h0M233.5 205.2h0M234.1 204.3h0M234.6 202.9h0M235.1 204.1h0M235.6 203.9h0M236.1 205.5h0M236.6 205.5h0M237.1 207.1h0M237.6 206.8h0M238.1 203.9h0M238.5 206.8h0M239.0 207.7h0M239.5 207.4h0M239.9 208.4h0M240.4 206.4h0M240.8 206.1h0M241.3 208.9h0M241.7 206.4h0M242.1 205.0h0M242.6 209.7h0M243.0 207.5h0M243.4 208.3h0M243.8 206.9h0M244.2 207.2h0M244.6 207.6h0M245.0 209.0h0M245.4 210.2h0M245.8 206.6h0M246.2 211.2h0M246.6 208.6h0M246.9 208.9h0M247.3 211.7h0M247.7 210.7h0M248.0 208.8h0M248.4 214.0h0M248.8 210.1h0M249.1 212.0h0M249.5 212.1h0M249.8 214.1h0M250.2 211.4h0M250.5 213.8h0M250.9 211.4h0M251.2 214.4h0M251.5 211.7h0M251.9 212.4h0M252.2 216.1h0M252.5 213.8h0M252.8 213.7h0M253.1 217.1h0M253.5 214.4h0M253.8 212.7h0M254.1 215.3h0M254.4 212.5h0M254.7 216.3h0M255.0 216.6h0M255.3 214.0h0M255.6 214.1h0M255.9 215.6h0M256.2 215.5h0M256.5 214.1h0M256.8 216.8h0M257.1 212.8h0M257.4 215.5h0M257.6 215.8h0M257.9 216.1h0M258.2 217.3h0M258.5 214.9h0M258.8 218.1h0M259.0 217.0h0M259.3 216.4h0M259.6 215.4h0M259.8 215.9h0M260.1 218.6h0M260.4 216.5h0M260.6 218.4h0M260.9 220.2h0M261.1 220.4h0M261.4 221.4h0M261.6 218.5h0M261.9 217.3h0M262.2 221.0h0M262.4 220.0h0M262.6 221.5h0M262.9 219.8h0M263.1 222.0h0M263.4 221.6h0M263.6 221.5h0M263.9 221.3h0M264.1 221.3h0M264.3 221.2h0M264.6 221.4h0M264.8 222.9h0M265.0 220.5h0M265.3 224.5h0M265.5 221.5h0M265.7 223.6h0M266.0 221.9h0M266.2 221.7h0M266.4 225.9h0M266.6 222.0h0M266.8 220.4h0M267.1 221.6h0M267.3 222.4h0M267.5 226.9h0M267.7 223.7h0M267.9 225.1h0M268.1 221.9h0M268.4 224.4h0M268.6 225.2h0M268.8 227.3h0M269.0 223.1h0M269.2 225.6h0M269.4 225.2h0M269.6 223.0h0M269.8 225.0h0M270.0 224.7h0M270.2 221.2h0M270.4 226.6h0M270.6 226.7h0M270.8 225.1h0M271.0 223.6h0M271.2 228.9h0M271.4 226.8h0M271.6 228.3h0M271.8 229.2h0M272.0 225.9h0M272.2 228.5h0M272.4 226.7h0M272.6 227.2h0M272.8 227.3h0M272.9 227.6h0M273.1 229.8h0M273.3 228.2h0M273.5 227.8h0M273.7 227.7h0M273.9 229.0h0M274.0 226.9h0M274.2 227.7h0M274.4 228.7h0M274.6 227.9h0M274.8 228.9h0M274.9 228.1h0M275.1 233.1h0M275.3 232.0h0M275.5 230.5h0M275.7 229.7h0M275.8 234.0h0M276.0 230.7h0M276.2 230.0h0M276.3 230.9h0M276.5 231.0h0M276.7 233.2h0M276.9 230.7h0M277.0 234.8h0M277.2 229.3h0M277.4 232.4h0M277.5 229.3h0M277.7 234.8h0M277.9 230.8h0M278.0 231.5h0M278.2 233.5h0M278.3 234.2h0M278.5 229.9h0M278.7 231.4h0M278.8 229.6h0M279.0 232.6h0M279.1 232.3h0M279.3 231.9h0M279.5 231.4h0M279.6 232.1h0M279.8 231.5h0M279.9 234.1h0M280.1 236.1h0M280.2 229.6h0M280.4 233.2h0M280.5 232.7h0M280.7 234.6h0M280.9 231.9h0M281.0 233.6h0M281.2 232.0h0M281.3 235.5h0M281.5 234.5h0M281.6 234.1h0M281.8 235.2h0M281.9 234.1h0M282.0 231.7h0M282.2 236.0h0M282.3 235.5h0M282.5 234.8h0M282.6 237.1h0M282.8 237.7h0M282.9 233.2h0M283.1 234.0h0M283.2 238.7h0M283.3 238.5h0M283.5 234.4h0M283.6 233.6h0M283.8 234.8h0M283.9 235.2h0M284.0 233.1h0M284.2 236.4h0M284.3 233.9h0M284.5 234.2h0M284.6 238.5h0M284.7 235.4h0M284.9 236.8h0M285.0 238.3h0M285.1 238.7h0M285.3 236.5h0M285.4 237.4h0M285.6 235.7h0M285.7 240.9h0M285.8 238.8h0M286.0 235.4h0M286.1 237.7h0M286.2 239.2h0M286.3 238.8h0M286.5 241.6h0M286.6 240.8h0M286.7 237.0h0M286.9 238.0h0M287.0 235.7h0M287.1 238.9h0M287.3 238.7h0M287.4 244.0h0M287.5 238.8h0M287.6 234.4h0M287.8 237.4h0M287.9 239.1h0M288.0 236.4h0M288.1 237.2h0M288.3 238.3h0M288.4 239.9h0M288.5 238.9h0M288.6 237.5h0M288.8 241.0h0M288.9 238.4h0M289.0 238.5h0M289.1 236.8h0M289.2 238.1h0M289.4 241.1h0M289.5 236.5h0M289.6 239.8h0M289.7 241.5h0M289.8 239.3h0M290.0 240.7h0M290.1 237.9h0M290.2 243.0h0M290.3 242.7h0M290.4 240.9h0M290.6 236.9h0M290.7 238.4h0M290.8 242.7h0M290.9 244.3h0M291.0 241.4h0M291.1 243.5h0M291.3 239.7h0M291.4 240.7h0M291.5 241.1h0M291.6 242.1h0M291.7 238.1h0M291.8 243.3h0M291.9 244.2h0M292.0 239.1h0M292.2 238.7h0M292.3 242.4h0M292.4 240.3h0M292.5 236.8h0M292.6 243.5h0M292.7 242.2h0M292.8 241.0h0M292.9 246.5h0M293.0 242.4h0M293.2 240.6h0M293.3 242.5h0M293.4 240.1h0M293.5 240.8h0M293.6 243.3h0M293.7 241.4h0M293.8 241.6h0M293.9 246.2h0M294.0 244.6h0M294.1 244.5h0M294.2 244.0h0M294.3 244.0h0M294.4 246.1h0M294.5 243.0h0M294.7 247.1h0M294.8 241.2h0M294.9 242.7h0M295.0 240.4h0M295.1 242.7h0M295.2 244.6h0M295.3 246.7h0M295.4 242.2h0M295.5 243.7h0M295.6 243.0h0M295.7 242.2h0M295.8 241.3h0M295.9 244.1h0M296.0 240.3h0M296.1 244.3h0M296.2 244.1h0M296.3 242.7h0M296.4 242.0h0M296.5 241.2h0M296.6 248.3h0M296.7 241.4h0M296.8 247.8h0M296.9 245.7h0M297.0 243.7h0M297.1 242.0h0M297.2 246.8h0M297.3 248.4h0M297.4 242.6h0M297.5 244.1h0M297.6 247.0h0M297.7 245.5h0M297.8 249.2h0M297.9 243.7h0M298.0 246.1h0M298.1 242.3h0M298.2 249.6h0M298.3 243.5h0M298.3 240.3h0M298.4 244.9h0M298.5 244.9h0M298.6 249.5h0M298.7 244.6h0M298.8 245.3h0M298.9 246.7h0M299.0 248.9h0M299.1 245.4h0M299.2 247.8h0M299.3 246.7h0M299.4 245.0h0M299.5 245.8h0M299.6 245.8h0M299.7 243.7h0M299.7 248.5h0M299.8 242.8h0M299.9 248.5h0M300.0 248.0h0M300.1 245.8h0M300.2 244.3h0M300.3 245.6h0M300.4 247.2h0M300.5 247.8h0M300.6 246.8h0M300.7 248.4h0M300.7 245.0h0M300.8 246.9h0M300.9 242.9h0M301.0 248.1h0M301.1 246.8h0M301.2 245.6h0M301.3 249.1h0M301.4 248.1h0M301.4 240.3h0M301.5 246.8h0M301.6 243.5h0M301.7 249.1h0M301.8 252.4h0M301.9 245.7h0M302.0 247.0h0M302.1 246.4h0M302.1 247.7h0M302.2 248.4h0M302.3 249.9h0M302.4 244.9h0M302.5 250.7h0M302.6 245.1h0M302.7 247.8h0M302.7 249.9h0M302.8 248.9h0M302.9 245.2h0M303.0 245.8h0M303.1 246.4h0M303.2 247.3h0M303.2 250.1h0M303.3 244.6h0M303.4 248.6h0M303.5 249.0h0M303.6 248.9h0M303.7 248.7h0M303.7 251.2h0M303.8 248.9h0M303.9 249.8h0M304.0 249.1h0M304.1 252.0h0M304.1 243.6h0M304.2 250.9h0M304.3 247.4h0M304.4 247.4h0M304.5 245.9h0M304.6 243.9h0M304.6 247.3h0M304.7 246.6h0M304.8 249.3h0M304.9 244.9h0M305.0 251.5h0M305.0 248.9h0M305.1 247.7h0M305.2 246.7h0M305.3 246.6h0M305.3 245.8h0M305.4 247.2h0M305.5 248.5h0M305.6 248.1h0M305.7 245.3h0M305.7 247.9h0M305.8 246.5h0M305.9 248.9h0M306.0 252.9h0M306.1 250.1h0M306.1 247.9h0M306.2 244.9h0M306.3 245.5h0M306.4 244.9h0M306.4 250.4h0M306.5 247.0h0M306.6 249.0h0M306.7 247.4h0M306.7 249.1h0M306.8 252.1h0M306.9 247.3h0M307.0 248.2h0M307.0 247.1h0M307.1 251.0h0M307.2 246.6h0M307.3 246.4h0M307.3 245.9h0M307.4 245.8h0M307.5 250.2h0M307.6 255.1h0M307.6 246.9h0M307.7 251.4h0M307.8 249.8h0M307.9 246.7h0M307.9 248.6h0M308.0 248.8h0M308.1 247.7h0M308.2 253.8h0M308.2 244.9h0M308.3 250.3h0M308.4 250.2h0M308.4 248.1h0M308.5 249.8h0M308.6 251.5h0M308.7 249.9h0M308.7 250.5h0M308.8 251.2h0M308.9 244.8h0M309.0 253.1h0M309.0 255.0h0M309.1 252.0h0M309.2 252.1h0M309.2 246.4h0M309.3 249.5h0M309.4 247.9h0M309.5 248.4h0M309.5 252.1h0M309.6 247.9h0M309.7 249.5h0M309.7 245.4h0M309.8 249.5h0M309.9 250.1h0M309.9 248.3h0M310.0 248.3h0M310.1 254.4h0M310.2 247.2h0M310.2 247.5h0M310.3 248.1h0M310.4 252.8h0M310.4 255.0h0M310.5 250.8h0M310.6 248.4h0M310.6 249.1h0M310.7 252.6h0M310.8 247.9h0M310.8 253.5h0M310.9 253.4h0M311.0 250.3h0M311.0 251.6h0M311.1 251.9h0M311.2 253.8h0M311.2 247.7h0M311.3 252.9h0M311.4 249.3h0M311.4 248.4h0M311.5 250.4h0M311.6 249.7h0M311.6 247.9h0M311.7 246.4h0M311.8 248.0h0M311.8 253.6h0M311.9 254.8h0M312.0 251.8h0M312.0 253.0h0M312.1 249.0h0M312.2 250.1h0M312.2 250.9h0M312.3 247.7h0M312.4 247.9h0M312.4 250.5h0M312.5 249.5h0M312.6 247.8h0M312.6 251.2h0M312.7 249.7h0M312.8 252.7h0M312.8 250.3h0M312.9 249.6h0M313.0 250.6h0M313.0 249.9h0M313.1 248.8h0M313.1 249.4h0M313.2 252.1h0M313.3 251.9h0M313.3 253.4h0M313.4 246.4h0M313.5 249.5h0M313.5 249.4h0M313.6 250.8h0M313.7 249.4h0M313.7 249.2h0M313.8 252.3h0M313.8 250.9h0M313.9 247.7h0M314.0 253.6h0M314.0 252.8h0M314.1 249.1h0M314.2 252.4h0M314.2 248.8h0M314.3 253.2h0M314.3 250.0h0M314.4 248.6h0M314.5 249.7h0M314.5 248.7h0M314.6 251.0h0M314.7 251.0h0M314.7 250.6h0M314.8 249.3h0M314.8 242.0h0M314.9 250.8h0M315.0 246.1h0M315.0 251.2h0M315.1 253.3h0M315.1 251.3h0M315.2 249.7h0M315.3 250.2h0M315.3 250.3h0M315.4 249.3h0M315.4 249.3h0M315.5 248.5h0M315.6 253.5h0M315.6 250.6h0M315.7 252.9h0M315.7 250.1h0M315.8 250.9h0M315.9 250.3h0M315.9 251.8h0M316.0 252.7h0M316.0 251.3h0M316.1 249.1h0M316.2 248.9h0M316.2 254.6h0M316.3 250.1h0M316.3 250.1h0M316.4 254.2h0M316.5 253.3h0M316.5 252.0h0M316.6 249.8h0M316.6 256.3h0M316.7 251.7h0M316.7 252.1h0M316.8 250.4h0M316.9 247.5h0M316.9 247.7h0M317.0 251.8h0M317.0 251.8h0M317.1 250.3h0M317.1 248.1h0M317.2 247.5h0M317.3 250.1h0M317.3 247.5h0M317.4 253.0h0M317.4 253.6h0M317.5 257.5h0M317.5 253.0h0M317.6 249.5h0M317.7 248.9h0M317.7 242.8h0M317.8 249.5h0M317.8 250.5h0M317.9 253.2h0M317.9 252.4h0M318.0 252.3h0M318.1 251.5h0M318.1 252.5h0M318.2 254.4h0M318.2 248.5h0M318.3 249.9h0M318.3 247.7h0M318.4 254.8h0M318.4 254.1h0M318.5 252.8h0M318.6 248.2h0M318.6 251.4h0M318.7 250.5h0M318.7 251.2h0M318.8 250.6h0M318.8 252.3h0M318.9 250.1h0M318.9 253.1h0M319.0 251.6h0M319.1 250.4h0M319.1 250.8h0M319.2 250.1h0M319.2 253.0h0M319.3 250.5h0M319.3 251.8h0M319.4 250.2h0M319.4 247.6h0M319.5 253.3h0M319.5 248.7h0M319.6 252.7h0M319.7 252.1h0M319.7 247.3h0M319.8 249.0h0M319.8 250.0h0M319.9 249.3h0M319.9 248.4h0M320.0 252.9h0M320.0 250.6h0M320.1 252.1h0M320.1 250.2h0M320.2 251.9h0M320.2 249.4h0M320.3 251.1h0M320.3 252.6h0M320.4 251.3h0M320.5 250.1h0M320.5 248.7h0M320.6 251.6h0M320.6 252.0h0M320.7 250.6h0M320.7 249.4h0M320.8 252.5h0M320.8 257.0h0M320.9 250.5h0M320.9 252.0h0M321.0 252.1h0M321.0 245.2h0M321.1 251.5h0M321.1 249.6h0M321.2 254.5h0M321.2 250.6h0M321.3 249.4h0M321.3 250.7h0M321.4 251.6h0M321.4 249.9h0M321.5 251.1h0M321.5 248.0h0M321.6 250.7h0M321.6 253.1h0M321.7 255.9h0M321.7 252.9h0M321.8 251.9h0M321.8 254.0h0M321.9 253.6h0M321.9 255.1h0M322.0 253.8h0M322.0 251.0h0M322.1 251.8h0M322.1 251.7h0M322.2 252.0h0M322.2 251.7h0M322.3 249.4h0M322.3 246.3h0M322.4 249.7h0M322.4 246.5h0M322.5 251.4h0M322.5 251.3h0M322.6 247.3h0M322.6 252.9h0M322.7 253.3h0M322.7 251.5h0M322.8 255.2h0M322.8 255.7h0M322.9 248.4h0M322.9 253.7h0M323.0 252.3h0M323.0 252.2h0M323.1 253.5h0M323.1 249.6h0M323.2 249.9h0M323.2 249.3h0M323.3 249.5h0M323.3 251.0h0M323.4 247.9h0M323.4 248.8h0M323.5 252.6h0M323.5 251.1h0M323.6 252.2h0M323.6 246.8h0M323.7 249.4h0M323.7 250.0h0M323.8 251.4h0M323.8 249.9h0M323.9 253.5h0M323.9 251.1h0M324.0 251.3h0M324.0 251.3h0M324.1 252.9h0M324.1 250.2h0M324.2 253.9h0M324.2 252.4h0M324.3 251.6h0M324.3 251.4h0M324.3 252.5h0M324.4 253.7h0M324.4 253.5h0M324.5 252.2h0M324.5 253.4h0M324.6 251.6h0M324.6 254.2h0M324.7 251.2h0M324.7 246.4h0M324.8 254.4h0M324.8 251.5h0M324.9 248.5h0M324.9 250.8h0M325.0 249.2h0M325.0 256.2h0M325.1 252.5h0M325.1 247.6h0M325.1 252.6h0M325.2 250.4h0M325.2 255.8h0M325.3 248.8h0M325.3 246.0h0M325.4 251.5h0M325.4 250.5h0M325.5 250.3h0M325.5 246.3h0M325.6 252.3h0M325.6 255.2h0M325.7 246.8h0M325.7 254.1h0M325.7 250.0h0M325.8 256.8h0M325.8 252.3h0M325.9 250.9h0M325.9 253.9h0M326.0 252.6h0M326.0 249.9h0M326.1 253.0h0M326.1 250.1h0M326.2 247.1h0M326.2 256.1h0M326.2 250.5h0M326.3 249.9h0M326.3 252.1h0M326.4 247.7h0M326.4 248.1h0M326.5 250.2h0M326.5 250.1h0M326.6 251.5h0M326.6 254.0h0M326.6 250.2h0M326.7 252.5h0M326.7 252.7h0M326.8 248.8h0M326.8 251.9h0M326.9 249.1h0M326.9 253.8h0M327.0 252.4h0M327.0 251.4h0M327.0 248.2h0M327.1 251.6h0M327.1 249.5h0M327.2 253.0h0M327.2 251.1h0M327.3 249.4h0M327.3 253.5h0M327.4 253.0h0M327.4 250.0h0M327.4 254.1h0M327.5 250.6h0M327.5 250.6h0M327.6 251.6h0M327.6 249.6h0M327.7 250.3h0M327.7 251.0h0M327.7 255.0h0M327.8 254.9h0M327.8 250.7h0M327.9 255.1h0M327.9 251.3h0M328.0 252.3h0M328.0 253.4h0M328.0 252.0h0M328.1 257.0h0M328.1 251.9h0M328.2 248.5h0M328.2 254.4h0M328.3 250.4h0M328.3 250.7h0M328.3 244.3h0M328.4 253.7h0M328.4 253.3h0M328.5 253.2h0M328.5 253.7h0M328.6 255.3h0M328.6 251.3h0M328.6 253.6h0M328.7 249.6h0M328.7 250.5h0M328.8 253.9h0M328.8 252.3h0M328.9 248.2h0M328.9 252.2h0M328.9 250.9h0M329.0 249.5h0M329.0 252.4h0M329.1 250.4h0M329.1 247.7h0M329.1 248.8h0M329.2 255.5h0M329.2 247.8h0M329.3 251.9h0M329.3 252.8h0M329.4 252.9h0M329.4 248.5h0M329.4 250.6h0M329.5 251.7h0M329.5 253.3h0M329.6 249.9h0M329.6 248.7h0M329.6 253.7h0M329.7 254.0h0M329.7 252.3h0M329.8 250.0h0M329.8 252.4h0M329.9 251.7h0M329.9 253.4h0M329.9 248.5h0M330.0 251.7h0M330.0 251.0h0M330.1 248.8h0M330.1 251.9h0M330.1 251.5h0M330.2 250.4h0M330.2 252.3h0M330.3 248.1h0M330.3 251.3h0M330.3 252.4h0M330.4 252.1h0M330.4 253.9h0M330.5 248.6h0M330.5 247.9h0M330.5 252.0h0M330.6 252.5h0M330.6 256.4h0M330.7 252.9h0M330.7 249.4h0M330.7 253.3h0M330.8 249.4h0M330.8 247.9h0M330.9 257.5h0M330.9 252.2h0M330.9 253.1h0M331.0 252.7h0M331.0 255.7h0M331.1 252.1h0M331.1 254.3h0M331.1 249.0h0M331.2 248.2h0M331.2 254.8h0M331.3 254.9h0M331.3 252.6h0M331.3 252.0h0M331.4 251.8h0M331.4 249.8h0M331.5 255.0h0M331.5 253.0h0M331.5 252.6h0M331.6 252.3h0M331.6 253.9h0M331.7 252.6h0M331.7 253.2h0M331.7 248.7h0M331.8 252.6h0M331.8 256.6h0M331.8 250.2h0M331.9 251.1h0M331.9 253.5h0M332.0 253.7h0M332.0 252.9h0M332.0 247.6h0M332.1 252.6h0M332.1 248.7h0M332.2 249.5h0M332.2 252.7h0M332.2 250.7h0M332.3 253.3h0M332.3 258.8h0M332.3 253.3h0M332.4 253.1h0M332.4 249.3h0M332.5 249.9h0M332.5 249.0h0M332.5 250.2h0M332.6 248.9h0M332.6 249.9h0M332.7 251.0h0M332.7 249.1h0M332.7 248.1h0M332.8 248.3h0M332.8 252.5h0M332.8 251.6h0M332.9 253.9h0M332.9 253.9h0M333.0 250.7h0M333.0 253.0h0M333.0 248.1h0M333.1 256.8h0M333.1 254.3h0M333.1 251.0h0M333.2 248.7h0M333.2 252.4h0M333.3 247.1h0M333.3 249.6h0M333.3 253.2h0M333.4 251.6h0M333.4 250.3h0M333.4 253.7h0M333.5 249.0h0M333.5 252.1h0M333.6 250.3h0M333.6 249.5h0M333.6 252.6h0M333.7 249.1h0M333.7 255.9h0M333.7 250.1h0M333.8 256.2h0M333.8 248.9h0M333.8 252.9h0M333.9 248.7h0M333.9 248.3h0M334.0 251.9h0M334.0 253.1h0M334.0 248.5h0M334.1 254.3h0M334.1 249.6h0M334.1 251.8h0M334.2 252.4h0M334.2 252.9h0M334.3 247.3h0M334.3 255.3h0M334.3 252.8h0M334.4 250.5h0M334.4 249.1h0M334.4 247.5h0M334.5 248.3h0M334.5 252.8h0M334.5 250.7h0M334.6 248.8h0M334.6 250.3h0M334.6 255.2h0M334.7 250.7h0M334.7 250.1h0M334.8 254.7h0M334.8 252.6h0M334.8 251.6h0M334.9 250.1h0M334.9 247.8h0M334.9 248.7h0M335.0 250.4h0M335.0 251.0h0M335.0 252.3h0M335.1 252.8h0M335.1 252.0h0M335.2 252.0h0M335.2 249.1h0M335.2 246.4h0M335.3 250.3h0M335.3 249.3h0M335.3 250.0h0M335.4 250.9h0M335.4 248.6h0M335.4 248.9h0M335.5 251.3h0M335.5 251.8h0M335.5 250.0h0M335.6 252.7h0M335.6 251.0h0M335.6 249.1h0M335.7 251.6h0M335.7 255.9h0M335.7 249.9h0M335.8 254.2h0M335.8 254.7h0M335.9 255.0h0M335.9 249.6h0M335.9 256.2h0M336.0 251.8h0M336.0 250.9h0M336.0 251.0h0M336.1 252.9h0M336.1 251.6h0M336.1 251.1h0M336.2 254.5h0M336.2 249.8h0M336.2 249.0h0M336.3 253.4h0M336.3 253.2h0M336.3 254.1h0M336.4 249.0h0M336.4 254.0h0M336.4 252.6h0M336.5 255.6h0M336.5 248.6h0M336.5 252.0h0M336.6 250.8h0M336.6 247.8h0M336.6 249.8h0M336.7 254.1h0M336.7 250.4h0M336.8 249.8h0M336.8 253.5h0M336.8 253.8h0M336.9 253.8h0M336.9 249.6h0M336.9 251.4h0M337.0 253.9h0M337.0 250.0h0M337.0 249.7h0M337.1 253.4h0M337.1 255.2h0M337.1 248.8h0M337.2 245.4h0M337.2 248.1h0M337.2 249.1h0M337.3 251.2h0M337.3 252.9h0M337.3 251.2h0M337.4 249.9h0M337.4 251.9h0M337.4 249.2h0M337.5 251.4h0M337.5 250.0h0M337.5 257.8h0M337.6 253.4h0M337.6 249.5h0M337.6 249.2h0M337.7 250.5h0M337.7 247.6h0M337.7 249.8h0M337.8 249.8h0M337.8 253.6h0M337.8 250.5h0M337.9 249.6h0M337.9 248.3h0M337.9 248.7h0M338.0 251.3h0M338.0 251.0h0M338.0 254.2h0M338.1 250.0h0M338.1 254.0h0M338.1 252.1h0M338.2 251.5h0M338.2 246.8h0M338.2 248.5h0M338.3 253.2h0M338.3 254.8h0M338.3 252.0h0M338.4 253.3h0M338.4 250.5h0M338.4 250.6h0M338.4 249.9h0M338.5 253.8h0M338.5 252.3h0M338.5 250.9h0M338.6 250.7h0M338.6 252.8h0M338.6 252.3h0M338.7 249.5h0M338.7 255.5h0M338.7 252.1h0M338.8 251.5h0M338.8 255.0h0M338.8 253.9h0M338.9 251.3h0M338.9 252.8h0M338.9 249.0h0M339.0 250.0h0M339.0 246.2h0M339.0 254.4h0M339.1 247.0h0M339.1 253.1h0M339.1 249.5h0M339.2 249.2h0M339.2 251.0h0M339.2 252.1h0M339.3 252.9h0M339.3 255.7h0M339.3 252.3h0M339.3 253.6h0M339.4 250.1h0M339.4 253.2h0M339.4 251.9h0M339.5 250.4h0M339.5 251.3h0M339.5 251.4h0M339.6 251.9h0M339.6 252.4h0M339.6 250.3h0M339.7 249.8h0M339.7 253.3h0M339.7 247.5h0M339.8 250.0h0M339.8 255.1h0M339.8 245.1h0M339.9 249.9h0M339.9 253.1h0M339.9 247.6h0M339.9 257.6h0M340.0 245.4h0M340.0 254.9h0M340.0 255.2h0M340.1 253.7h0M340.1 251.0h0M340.1 252.3h0M340.2 249.4h0M340.2 253.4h0M340.2 248.9h0M340.3 250.9h0M340.3 253.8h0M340.3 248.9h0M340.4 250.6h0M340.4 251.9h0M340.4 248.3h0M340.4 254.2h0M340.5 252.3h0M340.5 247.9h0M340.5 251.4h0M340.6 249.7h0M340.6 250.0h0M340.6 251.7h0M340.7 249.8h0M340.7 253.8h0M340.7 249.8h0M340.8 253.8h0M340.8 251.4h0M340.8 253.5h0M340.8 250.2h0M340.9 250.3h0M340.9 248.8h0M340.9 252.9h0M341.0 253.7h0M341.0 256.5h0M341.0 254.5h0M341.1 252.1h0M341.1 251.0h0M341.1 252.4h0M341.1 251.4h0M341.2 254.9h0M341.2 253.7h0M341.2 249.5h0M341.3 249.9h0M341.3 254.7h0M341.3 252.2h0M341.4 251.0h0M341.4 254.3h0M341.4 250.6h0M341.4 250.8h0M341.5 250.4h0M341.5 246.9h0M341.5 253.5h0M341.6 248.7h0M341.6 250.2h0M341.6 249.8h0M341.7 253.2h0M341.7 251.3h0M341.7 251.5h0M341.7 247.6h0M341.8 251.3h0M341.8 248.0h0M341.8 252.2h0M341.9 252.4h0M341.9 251.5h0M341.9 256.3h0M342.0 252.7h0M342.0 252.9h0M342.0 251.8h0M342.0 251.0h0M342.1 253.8h0M342.1 254.1h0M342.1 248.4h0M342.2 254.0h0M342.2 252.7h0M342.2 253.8h0M342.3 252.6h0M342.3 248.6h0M342.3 248.7h0M342.3 255.8h0M342.4 252.1h0M342.4 248.2h0M342.4 252.3h0M342.5 250.6h0M342.5 247.2h0M342.5 246.1h0M342.5 247.7h0M342.6 252.1h0M342.6 251.4h0M342.6 250.9h0M342.7 252.2h0M342.7 252.9h0M342.7 246.6h0M342.7 250.8h0M342.8 249.6h0M342.8 248.6h0M342.8 250.2h0M342.9 251.2h0M342.9 250.9h0M342.9 248.1h0M343.0 250.4h0M343.0 256.2h0M343.0 249.0h0M343.0 247.5h0M343.1 252.1h0M343.1 252.9h0M343.1 252.6h0M343.2 248.9h0M343.2 253.8h0M343.2 249.7h0M343.2 248.8h0M343.3 250.1h0M343.3 251.2h0M343.3 253.2h0M343.4 253.0h0M343.4 251.4h0M343.4 253.7h0M343.4 251.7h0M343.5 253.6h0M343.5 248.2h0M343.5 247.8h0M343.6 253.3h0M343.6 248.2h0M343.6 250.8h0M343.6 251.3h0M343.7 250.4h0M343.7 250.4h0M343.7 254.8h0M343.8 245.6h0M343.8 253.6h0M343.8 256.9h0M343.8 251.6h0M343.9 251.5h0M343.9 253.2h0M343.9 255.8h0M343.9 248.7h0M344.0 251.7h0M344.0 251.1h0M344.0 252.8h0M344.1 251.9h0M344.1 253.1h0M344.1 250.5h0M344.1 251.6h0M344.2 249.9h0M344.2 249.9h0M344.2 251.2h0M344.3 251.2h0M344.3 248.7h0M344.3 255.2h0M344.3 251.2h0M344.4 248.2h0M344.4 254.1h0M344.4 249.7h0M344.4 252.7h0M344.5 251.5h0M344.5 252.1h0M344.5 251.9h0M344.6 250.1h0M344.6 251.6h0M344.6 256.3h0M344.6 246.2h0M344.7 251.7h0M344.7 252.5h0M344.7 249.0h0M344.8 248.3h0M344.8 256.6h0M344.8 250.6h0M344.8 256.4h0M344.9 252.8h0M344.9 251.7h0M344.9 252.6h0M344.9 253.0h0M345.0 254.3h0M345.0 252.5h0M345.0 251.8h0M345.1 251.9h0M345.1 254.7h0M345.1 253.4h0M345.1 249.1h0M345.2 250.0h0M345.2 252.3h0M345.2 250.0h0M345.2 250.6h0M345.3 249.3h0M345.3 250.9h0M345.3 252.5h0M345.4 253.8h0M345.4 251.5h0M345.4 256.4h0M345.4 251.3h0M345.5 259.0h0M345.5 253.9h0M345.5 252.7h0M345.5 250.3h0M345.6 244.9h0M345.6 251.1h0M345.6 251.9h0M345.7 256.0h0M345.7 248.3h0M345.7 256.0h0M345.7 250.9h0M345.8 253.2h0M345.8 245.5h0M345.8 251.8h0M345.8 250.7h0M345.9 253.1h0M345.9 251.7h0M345.9 248.8h0M345.9 253.7h0M346.0 253.1h0M346.0 252.9h0M346.0 253.9h0M346.1 254.1h0M346.1 251.4h0M346.1 248.3h0M346.1 248.2h0M346.2 254.7h0M346.2 253.2h0M346.2 251.7h0M346.2 250.5h0M346.3 251.6h0M346.3 251.6h0M346.3 250.7h0M346.3 249.9h0M346.4 256.6h0M346.4 252.0h0M346.4 250.1h0M346.4 248.4h0M346.5 249.8h0M346.5 253.2h0M346.5 253.3h0M346.6 251.0h0M346.6 251.6h0M346.6 250.8h0M346.6 248.9h0M346.7 254.6h0M346.7 252.4h0M346.7 257.3h0M346.7 249.7h0M346.8 251.2h0M346.8 253.6h0M346.8 250.9h0M346.8 248.2h0M346.9 249.3h0M346.9 251.7h0M346.9 252.3h0M346.9 251.3h0M347.0 253.9h0M347.0 253.8h0M347.0 252.3h0M347.0 251.6h0M347.1 250.9h0M347.1 252.8h0M347.1 253.7h0M347.1 251.6h0M347.2 252.6h0M347.2 250.7h0M347.2 248.2h0M347.3 249.1h0M347.3 253.3h0M347.3 252.6h0M347.3 255.2h0M347.4 251.6h0M347.4 253.5h0M347.4 254.6h0M347.4 253.8h0M347.5 250.1h0M347.5 251.1h0M347.5 251.8h0M347.5 249.2h0M347.6 252.6h0M347.6 253.9h0M347.6 250.4h0M347.6 256.1h0M347.7 250.8h0M347.7 251.0h0M347.7 250.9h0M347.7 249.8h0M347.8 252.5h0M347.8 251.5h0M347.8 255.4h0M347.8 252.9h0M347.9 252.8h0M347.9 251.0h0M347.9 248.2h0M347.9 251.3h0M348.0 249.5h0M348.0 253.7h0M348.0 251.4h0M348.0 255.4h0M348.1 253.2h0M348.1 253.5h0M348.1 252.0h0M348.1 252.0h0M348.2 253.0h0M348.2 253.7h0M348.2 249.8h0M348.2 252.7h0M348.3 257.7h0M348.3 251.3h0M348.3 250.9h0M348.3 249.9h0M348.4 248.1h0M348.4 254.3h0M348.4 251.6h0M348.4 252.2h0M348.5 255.8h0M348.5 257.4h0M348.5 249.4h0M348.5 254.0h0M348.6 253.0h0M348.6 252.4h0M348.6 252.6h0M348.6 251.4h0M348.7 255.2h0M348.7 252.9h0M348.7 252.3h0M348.7 254.4h0M348.8 253.6h0M348.8 252.6h0M348.8 252.3h0M348.8 255.6h0M348.9 252.7h0M348.9 251.3h0M348.9 249.5h0M348.9 250.7h0M349.0 249.0h0M349.0 251.8h0M349.0 252.1h0M349.0 246.7h0M349.1 251.5h0M349.1 253.0h0M349.1 251.9h0M349.1 249.3h0M349.2 254.5h0M349.2 249.9h0M349.2 248.6h0M349.2 249.0h0M349.3 251.5h0M349.3 253.8h0M349.3 254.2h0M349.3 252.0h0M349.4 248.7h0M349.4 250.0h0M349.4 249.4h0M349.4 251.1h0M349.5 247.3h0M349.5 251.8h0M349.5 253.0h0M349.5 251.2h0M349.5 252.6h0M349.6 249.3h0M349.6 248.1h0M349.6 250.0h0M349.6 254.2h0M349.7 253.9h0M349.7 250.4h0M349.7 254.3h0M349.7 250.7h0M349.8 255.1h0M349.8 252.6h0M349.8 250.4h0M349.8 253.4h0M349.9 249.7h0M349.9 249.3h0M349.9 248.1h0M349.9 252.1h0M350.0 251.4h0M350.0 251.3h0M350.0 250.5h0M350.0 254.9h0M350.1 250.5h0M350.1 249.8h0M350.1 254.4h0M350.1 254.8h0M350.1 252.3h0M350.2 247.4h0M350.2 250.1h0M350.2 252.9h0M350.2 251.5h0M350.3 255.2h0M350.3 248.3h0M350.3 253.1h0M350.3 250.0h0M350.4 254.6h0M350.4 251.3h0M350.4 253.9h0M350.4 250.0h0M350.5 248.2h0M350.5 248.9h0M350.5 250.1h0M350.5 249.1h0M350.5 254.3h0M350.6 254.6h0M350.6 252.1h0M350.6 249.1h0M350.6 251.2h0M350.7 249.9h0M350.7 254.9h0M350.7 252.2h0M350.7 252.7h0M350.8 250.6h0M350.8 246.8h0M350.8 249.7h0M350.8 248.9h0M350.9 252.4h0M350.9 251.7h0M350.9 249.6h0M350.9 250.6h0M350.9 255.2h0M351.0 249.2h0M351.0 249.3h0M351.0 251.0h0M351.0 249.9h0M351.1 250.5h0M351.1 252.7h0M351.1 255.6h0M351.1 247.3h0M351.2 251.5h0M351.2 251.6h0M351.2 251.3h0M351.2 251.1h0M351.2 250.7h0M351.3 253.9h0M351.3 250.4h0M351.3 251.2h0M351.3 251.5h0M351.4 251.8h0M351.4 251.1h0M351.4 253.8h0M351.4 251.5h0M351.5 251.9h0M351.5 251.4h0M351.5 249.1h0M351.5 249.5h0M351.5 249.0h0M351.6 252.0h0M351.6 249.8h0M351.6 249.0h0M351.6 252.1h0M351.7 252.7h0M351.7 247.4h0M351.7 255.5h0M351.7 251.6h0M351.8 251.3h0M351.8 254.0h0M351.8 251.7h0M351.8 250.1h0M351.8 256.7h0M351.9 249.0h0M351.9 251.3h0M351.9 253.5h0M351.9 249.0h0M352.0 251.3h0M352.0 252.4h0M352.0 257.1h0M352.0 249.4h0M352.1 251.4h0M352.1 253.0h0M352.1 251.7h0M352.1 248.7h0M352.1 252.5h0M352.2 251.8h0M352.2 252.5h0M352.2 254.2h0M352.2 253.9h0M352.3 252.5h0M352.3 252.2h0M352.3 248.9h0M352.3 251.2h0M352.3 252.0h0M352.4 250.6h0M352.4 251.7h0M352.4 249.6h0M352.4 255.1h0M352.5 256.6h0M352.5 250.6h0M352.5 252.4h0M352.5 250.9h0M352.5 254.5h0M352.6 252.5h0M352.6 251.7h0M352.6 251.0h0M352.6 251.8h0M352.7 249.1h0M352.7 253.1h0M352.7 249.8h0M352.7 252.8h0M352.7 251.8h0M352.8 254.1h0M352.8 251.5h0M352.8 253.9h0M352.8 249.3h0M352.9 252.9h0M352.9 251.0h0M352.9 252.0h0M352.9 251.7h0M352.9 253.7h0M353.0 246.8h0M353.0 252.3h0M353.0 248.0h0M353.0 254.3h0M353.1 246.9h0M353.1 249.1h0M353.1 247.6h0M353.1 255.4h0M353.1 248.5h0M353.2 251.8h0M353.2 250.2h0M353.2 247.3h0M353.2 250.7h0M353.3 253.1h0M353.3 251.1h0M353.3 253.7h0M353.3 250.6h0M353.3 251.5h0M353.4 250.6h0M353.4 252.3h0M353.4 256.0h0M353.4 252.4h0M353.4 252.0h0M353.5 250.0h0M353.5 249.7h0M353.5 254.9h0M353.5 248.9h0M353.6 249.4h0M353.6 251.3h0M353.6 250.5h0M353.6 256.1h0M353.6 245.9h0M353.7 252.3h0M353.7 253.2h0M353.7 248.9h0M353.7 250.0h0M353.8 252.5h0M353.8 255.3h0M353.8 249.3h0M353.8 247.8h0M353.8 253.8h0M353.9 255.1h0M353.9 250.7h0M353.9 246.3h0M353.9 254.9h0M353.9 251.0h0M354.0 254.1h0M354.0 251.4h0M354.0 250.6h0M354.0 250.4h0M354.1 255.0h0M354.1 254.9h0M354.1 246.5h0M354.1 249.3h0M354.1 255.7h0M354.2 250.6h0M354.2 248.3h0M354.2 251.5h0M354.2 251.2h0M354.2 251.3h0M354.3 250.4h0M354.3 250.8h0M354.3 250.4h0M354.3 252.3h0M354.4 249.6h0M354.4 250.8h0M354.4 251.2h0M354.4 254.6h0M354.4 252.4h0M354.5 251.2h0M354.5 252.8h0M354.5 252.5h0M354.5 254.1h0M354.5 252.7h0M354.6 255.7h0M354.6 254.7h0M354.6 251.4h0M354.6 250.5h0M354.7 253.6h0M354.7 252.7h0M354.7 251.3h0M354.7 248.0h0M354.7 247.2h0M354.8 252.3h0M354.8 253.3h0M354.8 253.4h0M354.8 248.5h0M354.8 253.9h0M354.9 250.2h0M354.9 252.4h0M354.9 252.5h0M354.9 249.6h0M354.9 250.1h0M355.0 246.6h0M355.0 249.3h0M355.0 247.3h0M355.0 252.5h0M355.0 251.6h0M355.1 253.6h0M355.1 252.3h0M355.1 250.0h0M355.1 252.3h0M355.2 250.6h0M355.2 252.9h0M355.2 252.2h0M355.2 249.2h0M355.2 251.5h0M355.3 251.6h0M355.3 250.8h0M355.3 253.6h0M355.3 255.5h0M355.3 250.6h0M355.4 250.7h0M355.4 246.2h0M355.4 251.2h0M355.4 250.5h0M355.4 246.4h0M355.5 252.2h0M355.5 252.9h0M355.5 249.8h0M355.5 250.6h0M355.5 249.2h0M355.6 253.3h0M355.6 247.9h0M355.6 250.8h0M355.6 256.1h0M355.7 251.6h0M355.7 252.6h0M355.7 251.2h0M355.7 248.7h0M355.7 251.4h0M355.8 252.5h0M355.8 249.1h0M355.8 252.3h0M355.8 254.4h0M355.8 254.0h0M355.9 247.8h0M355.9 249.2h0M355.9 247.7h0M355.9 254.0h0M355.9 252.9h0M356.0 253.2h0M356.0 249.4h0M356.0 248.8h0M356.0 251.7h0M356.0 251.7h0M356.1 249.5h0M356.1 251.8h0M356.1 253.0h0M356.1 252.0h0M356.1 249.1h0M356.2 246.5h0M356.2 250.9h0M356.2 251.9h0M356.2 250.9h0M356.2 250.5h0M356.3 249.9h0M356.3 253.2h0M356.3 251.4h0M356.3 251.8h0M356.3 249.2h0M356.4 250.0h0M356.4 251.9h0M356.4 249.1h0M356.4 248.5h0M356.4 250.7h0M356.5 254.3h0M356.5 251.9h0M356.5 254.9h0M356.5 251.2h0M356.5 250.8h0M356.6 248.2h0M356.6 250.1h0M356.6 254.9h0M356.6 252.3h0M356.6 253.2h0M356.7 253.2h0M356.7 251.5h0M356.7 251.0h0M356.7 251.8h0M356.7 253.1h0M356.8 252.6h0M356.8 252.7h0M356.8 251.9h0M356.8 249.7h0M356.8 250.9h0M356.9 249.3h0M356.9 253.9h0M356.9 246.6h0M356.9 251.0h0M356.9 257.1h0M357.0 250.7h0M357.0 248.8h0M357.0 251.5h0M357.0 254.5h0M357.0 251.1h0M357.1 252.9h0M357.1 251.7h0M357.1 250.6h0M357.1 258.9h0M357.1 251.7h0M357.2 250.2h0M357.2 250.3h0M357.2 252.4h0M357.2 252.5h0M357.2 253.3h0M357.3 251.8h0M357.3 248.1h0M357.3 252.8h0M357.3 250.8h0M357.3 250.8h0M357.4 248.0h0M357.4 250.2h0M357.4 249.8h0M357.4 251.4h0M357.4 248.1h0M357.5 251.6h0M357.5 251.8h0M357.5 248.9h0M357.5 250.0h0M357.5 249.5h0M357.6 253.6h0M357.6 245.6h0M357.6 250.7h0M357.6 247.6h0M357.6 250.5h0M357.7 253.5h0M357.7 250.0h0M357.7 251.8h0M357.7 249.5h0M357.7 256.1h0M357.7 253.6h0M357.8 254.1h0M357.8 248.4h0M357.8 248.9h0M357.8 254.0h0M357.8 251.0h0M357.9 250.9h0M357.9 252.3h0M357.9 248.6h0M357.9 253.3h0M357.9 251.5h0M358.0 252.6h0M358.0 249.9h0M358.0 252.7h0M358.0 249.8h0M358.0 253.7h0M358.1 254.2h0M358.1 253.6h0M358.1 252.7h0M358.1 253.0h0M358.1 245.1h0M358.2 253.5h0M358.2 250.9h0M358.2 251.7h0M358.2 250.8h0M358.2 248.2h0M358.2 250.2h0M358.3 253.0h0M358.3 254.8h0M358.3 250.0h0M358.3 249.4h0M358.3 254.9h0M358.4 249.4h0M358.4 256.4h0M358.4 251.6h0M358.4 249.4h0M358.4 253.8h0M358.5 255.5h0M358.5 248.1h0M358.5 255.2h0M358.5 250.8h0M358.5 255.0h0M358.6 250.6h0M358.6 247.8h0M358.6 252.7h0M358.6 253.7h0M358.6 256.4h0M358.7 255.6h0M358.7 253.1h0M358.7 250.9h0M358.7 250.3h0M358.7 250.8h0M358.7 249.5h0M358.8 250.9h0M358.8 245.5h0M358.8 251.9h0M358.8 251.4h0M358.8 257.5h0M358.9 253.3h0M358.9 250.4h0M358.9 252.8h0M358.9 248.6h0M358.9 250.1h0M359.0 247.1h0M359.0 254.9h0M359.0 252.9h0M359.0 248.7h0M359.0 251.4h0M359.0 253.7h0M359.1 252.7h0M359.1 252.4h0M359.1 249.5h0M359.1 250.0h0M359.1 251.7h0M359.2 253.7h0" stroke="#00bfbf" stroke-width="4.0" stroke-linecap="round" fill="none"/>
</g>
<path d="M49.5 252.87H359.8" stroke="#111" stroke-width="2" fill="none"/>
<g stroke="#000" stroke-width="0.9" fill="none">
<path d="M40.50 271.80v-4.5M40.50 5.00v4.5"/>
<path d="M83.58 271.80v-4.5M83.58 5.00v4.5"/>
<path d="M126.65 271.80v-4.5M126.65 5.00v4.5"/>
<path d="M169.73 271.80v-4.5M169.73 5.00v4.5"/>
<path d="M212.80 271.80v-4.5M212.80 5.00v4.5"/>
<path d="M255.88 271.80v-4.5M255.88 5.00v4.5"/>
<path d="M298.95 271.80v-4.5M298.95 5.00v4.5"/>
<path d="M342.03 271.80v-4.5M342.03 5.00v4.5"/>
<path d="M385.10 271.80v-4.5M385.10 5.00v4.5"/>
<path d="M40.50 252.87h4.5M385.10 252.87h-4.5"/>
<path d="M40.50 214.73h4.5M385.10 214.73h-4.5"/>
<path d="M40.50 176.59h4.5M385.10 176.59h-4.5"/>
<path d="M40.50 138.45h4.5M385.10 138.45h-4.5"/>
<path d="M40.50 100.31h4.5M385.10 100.31h-4.5"/>
<path d="M40.50 62.17h4.5M385.10 62.17h-4.5"/>
<path d="M40.50 24.03h4.5M385.10 24.03h-4.5"/>
</g>
<rect x="40.50" y="5.00" width="344.60" height="266.80" fill="none" stroke="#000" stroke-width="1.5"/>
<g>
<text x="40.9" y="288.3" text-anchor="middle">−4.0</text>
<text x="84.0" y="288.3" text-anchor="middle">−3.5</text>
<text x="127.1" y="288.3" text-anchor="middle">−3.0</text>
<text x="170.1" y="288.3" text-anchor="middle">−2.5</text>
<text x="213.2" y="288.3" text-anchor="middle">−2.0</text>
<text x="256.3" y="288.3" text-anchor="middle">−1.5</text>
<text x="299.4" y="288.3" text-anchor="middle">−1.0</text>
<text x="342.4" y="288.3" text-anchor="middle">−0.5</text>
<text x="385.5" y="288.3" text-anchor="middle">0.0</text>
<text x="33.9" y="257.5" text-anchor="end">1</text>
<text x="33.9" y="219.3" text-anchor="end">2</text>
<text x="33.9" y="181.2" text-anchor="end">3</text>
<text x="33.9" y="143.0" text-anchor="end">4</text>
<text x="33.9" y="104.9" text-anchor="end">5</text>
<text x="33.9" y="66.8" text-anchor="end">6</text>
<text x="33.9" y="28.6" text-anchor="end">7</text>
</g>
<g>
<circle cx="321" cy="22.0" r="2.0" fill="#0000ff"/>
<text x="339" y="26.9"><tspan font-style="italic">N</tspan><tspan dx="1.3" letter-spacing="0.2">=50</tspan></text>
<circle cx="321" cy="41.8" r="2.0" fill="#008000"/>
<text x="339" y="46.7"><tspan font-style="italic">N</tspan><tspan dx="1.3" letter-spacing="0.2">=20</tspan></text>
<circle cx="321" cy="61.7" r="2.0" fill="#ff0000"/>
<text x="339" y="66.6"><tspan font-style="italic">N</tspan><tspan dx="1.3" letter-spacing="0.2">=10</tspan></text>
<circle cx="321" cy="81.5" r="2.0" fill="#00bfbf"/>
<text x="339" y="86.4"><tspan font-style="italic">N</tspan><tspan dx="1.3" letter-spacing="0.2">=5</tspan></text>
</g>
<text x="212.9" y="308" text-anchor="middle" style="font-size:18px;letter-spacing:0.08px">log[<tspan font-style="italic">f</tspan><tspan dx="1"> (Hz)]</tspan></text>
<path d="M5.8 134.2C5.9 136.3 6.3 138 8.6 138.9C10.6 139.5 13 139 15.2 139.8L17.4 140.4M16.5 132.9C17.9 134.5 18.3 137 18.2 139.5C18.1 141.5 17.8 143 17.5 144.6" stroke="#000" stroke-width="1.4" fill="none" stroke-linecap="round" stroke-linejoin="round"/>
</svg>
</body></html>
